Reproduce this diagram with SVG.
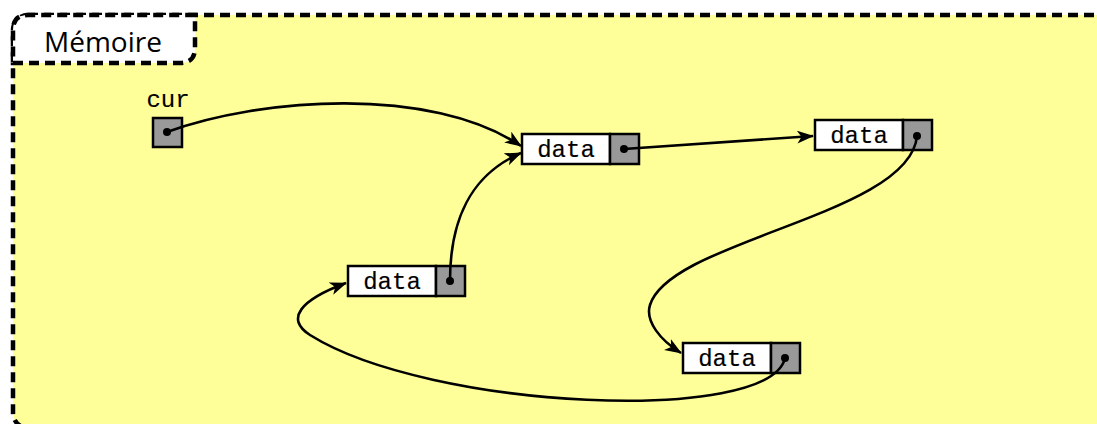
<svg xmlns="http://www.w3.org/2000/svg" width="1097" height="424" viewBox="0 0 1097 424">
  <style>
    .frame{fill:#ffff99;stroke:#000;stroke-width:4.5;stroke-dasharray:10 6}
    .tab{fill:#fff;stroke:#000;stroke-width:4.5;stroke-dasharray:10 6}
    .title{font-family:"Open Sans","DejaVu Sans",sans-serif;font-size:28px;fill:#000}
    .mono{font-family:"Liberation Mono","Courier New",monospace;font-size:24px;fill:#000;stroke:#000;stroke-width:0.15;text-anchor:middle}
    .data{fill:#fff;stroke:#000;stroke-width:2.5}
    .ptr{fill:#999;stroke:#000;stroke-width:2.5}
    .dot{fill:#000}
    .edge{fill:none;stroke:#000;stroke-width:2.6;marker-end:url(#arrow)}
  </style>
  <defs>
    <marker id="arrow" markerUnits="userSpaceOnUse" markerWidth="20" markerHeight="14" refX="16" refY="6.5" orient="auto">
      <path d="M0,0 L17,6.5 L0,13 L4.5,6.5 z" fill="#000"/>
    </marker>
  </defs>

  <g id="memory">
    <rect class="frame" x="13" y="15" width="1100" height="413" rx="15" ry="15"/>
    <path class="tab" d="M13,63 L180,63 Q195,63 195,48 L195,15 L28,15 Q13,15 13,30 Z"/>
    <text class="title" x="44" y="52">Mémoire</text>
  </g>

  <g id="cur">
    <text class="mono" x="168" y="107">cur</text>
    <rect class="ptr" x="153" y="118" width="29" height="29"/>
    <circle class="dot" cx="167" cy="132" r="4"/>
  </g>

  <g id="node1">
    <rect class="data" x="522" y="134" width="88" height="30"/>
    <rect class="ptr" x="610" y="134" width="29" height="30"/>
    <text class="mono" x="566" y="157">data</text>
    <circle class="dot" cx="624" cy="149" r="4"/>
  </g>

  <g id="node2">
    <rect class="data" x="815" y="120" width="88" height="30"/>
    <rect class="ptr" x="903" y="120" width="29" height="30"/>
    <text class="mono" x="859" y="143">data</text>
    <circle class="dot" cx="917" cy="136" r="4"/>
  </g>

  <g id="node3">
    <rect class="data" x="348" y="266" width="88" height="30"/>
    <rect class="ptr" x="436" y="266" width="29" height="30"/>
    <text class="mono" x="392" y="289">data</text>
    <circle class="dot" cx="450" cy="281" r="4"/>
  </g>

  <g id="node4">
    <rect class="data" x="683" y="343" width="88" height="30"/>
    <rect class="ptr" x="771" y="343" width="29" height="30"/>
    <text class="mono" x="727" y="366">data</text>
    <circle class="dot" cx="785" cy="358" r="4"/>
  </g>

  <g id="connectors">
    <path class="edge" d="M167,132 C260,98 430,85 521,146"/>
    <path class="edge" d="M450,281 C450,220 470,175 521,153"/>
    <path class="edge" d="M624,149 L813,136"/>
    <path class="edge" d="M917,136 C910,215 670,240 650,305 C645,321 660,340 681,353"/>
    <path class="edge" d="M785,358 C770,425 430,410 310,335 C285,319 300,300 346,283"/>
  </g>
</svg>
